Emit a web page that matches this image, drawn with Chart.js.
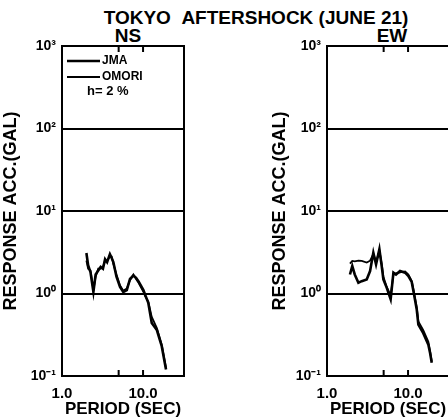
<!DOCTYPE html>
<html><head><meta charset="utf-8">
<script src="https://cdn.jsdelivr.net/npm/chart.js@4.4.1/dist/chart.umd.min.js"></script>
<style>
html,body{margin:0;padding:0;background:#fff;width:448px;height:420px;overflow:hidden;position:relative;font-family:"Liberation Sans",Arial,sans-serif;color:#000}
canvas{position:absolute;top:0}
.t{position:absolute;white-space:nowrap;text-align:center;line-height:20px;font-weight:bold}
</style></head>
<body>
<div class="t" style="left:0;width:512px;top:8px;font-size:19px;">TOKYO&nbsp;&nbsp;AFTERSHOCK (JUNE 21)</div>
<div class="t" style="left:78px;width:100px;top:26px;font-size:19px;">NS</div>
<div class="t" style="left:342px;width:100px;top:26px;font-size:19px;">EW</div>
<canvas id="ns" width="224" height="420" style="left:0"></canvas>
<canvas id="ew" width="224" height="420" style="left:265px"></canvas>
<script>
// ---- data ----
const nsPeriod = [2.0, 2.1, 2.25, 2.44, 2.6, 2.8, 3.0, 3.2, 3.4, 3.6, 3.9, 4.1, 4.3, 4.7, 5.2, 5.7, 6.3, 6.9, 7.6, 8.2, 8.8, 10.1, 10.6, 11.6, 12.8, 14.8, 17.0, 19.2];
const nsJma    = [3.1, 2.2, 1.8, 1.05, 1.7, 1.9, 2.1, 2.0, 2.6, 2.4, 3.0, 2.7, 2.4, 1.6, 1.2, 1.04, 1.1, 1.5, 1.65, 1.55, 1.4, 1.1, 0.97, 0.77, 0.44, 0.36, 0.23, 0.12];
const nsOmori  = [2.5, 2.0, 1.9, 1.1, 1.6, 2.0, 2.0, 2.1, 2.5, 2.5, 2.8, 2.8, 2.3, 1.7, 1.25, 1.08, 1.15, 1.45, 1.7, 1.5, 1.35, 1.05, 0.93, 0.8, 0.52, 0.38, 0.24, 0.125];
const ewPeriod = [1.92, 2.05, 2.2, 2.44, 2.68, 3.09, 3.4, 3.73, 4.03, 4.43, 4.73, 4.96, 5.46, 6.1, 6.6, 7.1, 7.96, 9.2, 10.1, 11.1, 11.8, 12.8, 13.4, 15.4, 17.8, 18.7, 19.6];
const ewJma    = [1.7, 2.15, 1.7, 1.35, 1.41, 1.48, 1.87, 3.13, 2.26, 3.44, 2.15, 1.48, 1.17, 0.85, 1.79, 1.7, 1.87, 1.79, 1.63, 1.38, 1.0, 0.64, 0.42, 0.33, 0.24, 0.19, 0.145];
const ewOmori  = [2.3, 2.48, 2.45, 2.5, 2.48, 2.37, 2.5, 3.0, 2.4, 3.3, 2.3, 1.6, 1.2, 0.95, 1.7, 1.75, 1.8, 1.85, 1.7, 1.42, 1.05, 0.68, 0.46, 0.36, 0.26, 0.2, 0.15];
const yTickValues = [0.1, 1, 10, 100, 1000];
const yTickLabels = ['10\u207B\u00B9', '10\u2070', '10\u00B9', '10\u00B2', '10\u00B3'];
const xTickValues = [1, 10];
const xTickLabels = ['1.0', '10.0'];
const xTickMarks = [5, 10];
const seriesNames = ['JMA', 'OMORI'];
const dampingText = 'h= 2 %';

const FONT = '"Liberation Sans", Arial, sans-serif';

const framePlugin = {
  id: 'frame',
  afterDraw(chart, args, opts) {
    const {ctx, chartArea: a, scales} = chart;
    ctx.save();
    ctx.strokeStyle = '#000';
    ctx.lineWidth = 2;
    ctx.strokeRect(a.left, a.top, a.right - a.left, a.bottom - a.top);
    xTickMarks.forEach(v => {
      const px = scales.x.getPixelForValue(v);
      ctx.beginPath();
      ctx.moveTo(px, a.bottom); ctx.lineTo(px, a.bottom - 6);
      ctx.moveTo(px, a.top); ctx.lineTo(px, a.top + 6);
      ctx.stroke();
    });
    if (opts.legend) {
      ctx.fillStyle = '#000';
      ctx.font = 'bold 12px ' + FONT;
      ctx.textBaseline = 'middle';
      chart.data.datasets.forEach((ds, i) => {
        const y = a.top + 15 + i * 16;
        ctx.lineWidth = ds.borderWidth;
        ctx.beginPath();
        ctx.moveTo(a.left + 5, y); ctx.lineTo(a.left + 38, y);
        ctx.stroke();
        ctx.fillText(ds.label, a.left + 40, y);
      });
      ctx.font = 'bold 13px ' + FONT;
      ctx.fillText(dampingText, a.left + 25, a.top + 45);
    }
    ctx.restore();
  }
};

function makeChart(id, period, jma, omori, showLegend, titlePad) {
  const pts = arr => period.map((p, i) => ({x: p, y: arr[i]}));
  return new Chart(document.getElementById(id), {
    type: 'line',
    data: {
      datasets: [
        {label: seriesNames[0], data: pts(jma), borderColor: '#000', borderWidth: 2.6, pointRadius: 0, tension: 0, fill: false},
        {label: seriesNames[1], data: pts(omori), borderColor: '#000', borderWidth: 1.8, pointRadius: 0, tension: 0, fill: false}
      ]
    },
    options: {
      responsive: false,
      devicePixelRatio: 1,
      animation: false,
      layout: {padding: {top: 46, right: 40, bottom: 0, left: 0}},
      plugins: {legend: {display: false}, tooltip: {enabled: false}, frame: {legend: showLegend}},
      scales: {
        x: {
          type: 'logarithmic', min: 1, max: 32,
          afterBuildTicks: s => { s.ticks = xTickValues.map(v => ({value: v})); },
          afterFit: s => { s.height = 44; },
          grid: {display: false, drawTicks: false},
          border: {display: false},
          ticks: {color: '#000', font: {family: FONT, size: 15, weight: 'bold'}, padding: 9, maxRotation: 0, autoSkip: false,
                  callback: (v) => xTickLabels[xTickValues.indexOf(v)]},
          title: {display: true, text: 'PERIOD (SEC)', color: '#000', font: {family: FONT, size: 17, weight: 'bold'}, padding: {top: 0, bottom: 0}}
        },
        y: {
          type: 'logarithmic', min: 0.1, max: 1000,
          afterBuildTicks: s => { s.ticks = yTickValues.map(v => ({value: v})); },
          afterFit: s => { s.width = 62; },
          grid: {color: '#000', lineWidth: 2, drawTicks: false},
          border: {display: false},
          ticks: {color: '#000', font: {family: FONT, size: 14, weight: 'bold'}, padding: 6, autoSkip: false,
                  callback: (v) => yTickLabels[yTickValues.indexOf(v)]},
          title: {display: true, text: 'RESPONSE ACC.(GAL)', color: '#000', font: {family: FONT, size: 18, weight: 'bold'}, padding: {top: titlePad, bottom: 0}}
        }
      }
    },
    plugins: [framePlugin]
  });
}

makeChart('ns', nsPeriod, nsJma, nsOmori, true, 0);
makeChart('ew', ewPeriod, ewJma, ewOmori, false, 4);
</script>
</body></html>
